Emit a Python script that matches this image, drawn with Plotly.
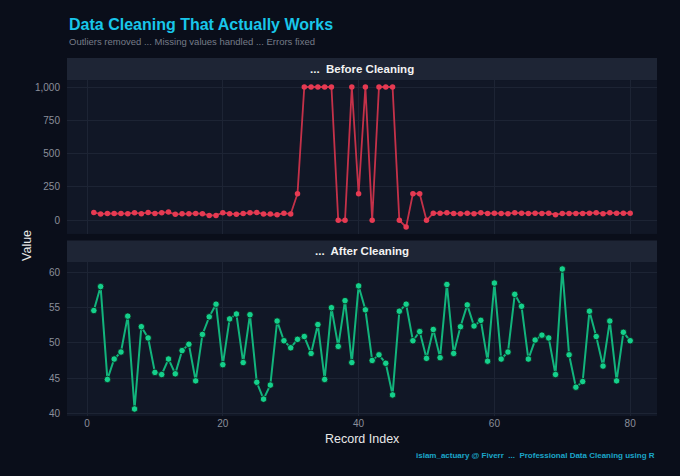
import plotly.graph_objects as go

# ---------------- data ----------------
record_index = list(range(1, 81))

before_values = [
    59, 47, 52, 52, 52, 50, 57, 50, 59, 52,
    57, 62, 45, 50, 50, 52, 50, 37, 37, 57,
    50, 45, 52, 57, 59, 47, 47, 42, 54, 47,
    200, 1000, 1000, 1000, 1000, 1000, 0, 0, 1000, 200,
    1000, 0, 1000, 1000, 1000, 0, -50, 200, 200, 0,
    54, 54, 57, 52, 50, 54, 50, 57, 52, 54,
    52, 50, 57, 54, 52, 54, 52, 54, 42, 52,
    52, 52, 52, 54, 57, 50, 57, 54, 54, 54,
]

after_values = [
    54.6, 58.0, 44.8, 47.7, 48.7, 53.8, 40.6, 52.3, 50.7, 45.8,
    45.5, 47.7, 45.6, 48.9, 49.8, 44.6, 51.2, 53.7, 55.5, 46.9,
    53.4, 54.1, 47.2, 54.0, 44.4, 42.0, 44.0, 53.1, 50.3, 49.3,
    50.5, 50.9, 48.5, 52.6, 44.8, 55.0, 49.5, 56.0, 47.2, 58.1,
    54.7, 47.5, 48.3, 47.1, 42.6, 54.5, 55.5, 50.3, 51.6, 47.8,
    51.9, 47.9, 58.3, 48.5, 52.3, 55.4, 52.4, 53.2, 47.4, 58.5,
    47.7, 48.7, 56.9, 55.2, 47.7, 50.4, 51.1, 50.7, 45.5, 60.5,
    48.3, 43.7, 44.5, 54.5, 50.9, 46.7, 53.1, 44.6, 51.5, 50.3,
]

x_ticks = [0, 20, 40, 60, 80]
top_y_ticks = [0, 250, 500, 750, 1000]
bottom_y_ticks = [40, 45, 50, 55, 60]

title_text = "Data Cleaning That Actually Works"
subtitle_text = "Outliers removed ... Missing values handled ... Errors fixed"
strip_top = "...  Before Cleaning"
strip_bottom = "...  After Cleaning"
x_title = "Record Index"
y_title = "Value"
caption_text = "islam_actuary @ Fiverr  ...  Professional Data Cleaning using R"

# ---------------- style ----------------
FONT = "Liberation Sans, Arial, Helvetica, sans-serif"
BG = "#0a0e1a"
PANEL = "#111726"
STRIP = "#1e2535"
GRID = "#1d2434"
TICK = "#8a8f9a"
RED = "#e63a52"
GREEN = "#14d08c"

top_dom = [0.5084, 0.9385]
bot_dom = [0.0, 0.4302]
top_strip = [0.9385, 1.0]
bot_strip = [0.4302, 0.4902]

fig = go.Figure()

fig.add_trace(go.Scatter(
    x=record_index, y=before_values, mode="lines+markers",
    line=dict(color="rgba(212,52,76,0.92)", width=1.8),
    marker=dict(color=RED, size=5.5, line=dict(width=0)),
    xaxis="x", yaxis="y", showlegend=False, hoverinfo="x+y",
))
fig.add_trace(go.Scatter(
    x=record_index, y=after_values, mode="lines+markers",
    line=dict(color="#12b47c", width=2),
    marker=dict(color=GREEN, size=6.5, line=dict(width=0.8, color="#0b1a16")),
    xaxis="x2", yaxis="y2", showlegend=False, hoverinfo="x+y",
))

common_x = dict(
    range=[-2.95, 83.95], tickvals=x_ticks, showgrid=True, gridcolor=GRID,
    gridwidth=1, zeroline=False, showline=False, ticks="",
    tickfont=dict(family=FONT, size=10, color=TICK),
)
common_y = dict(
    showgrid=True, gridcolor=GRID, gridwidth=1, zeroline=False, showline=False,
    ticks="outside", ticklen=4, tickcolor="rgba(0,0,0,0)",
    tickfont=dict(family=FONT, size=10, color=TICK),
)

fig.update_layout(
    width=680, height=476,
    margin=dict(l=67, r=23, t=58, b=60),
    paper_bgcolor=BG, plot_bgcolor=PANEL,
    font=dict(family=FONT, color="#e6e6e6"),
    xaxis=dict(domain=[0, 1], anchor="y", showticklabels=False, **common_x),
    yaxis=dict(domain=top_dom, anchor="x", range=[-102.5, 1052.5],
               tickvals=top_y_ticks, tickformat=",", **common_y),
    xaxis2=dict(domain=[0, 1], anchor="y2", showticklabels=True, **common_x),
    yaxis2=dict(domain=bot_dom, anchor="x2", range=[39.6, 61.5],
                tickvals=bottom_y_ticks, **common_y),
    showlegend=False,
)

# strips
for dom in (top_strip, bot_strip):
    fig.add_shape(type="rect", xref="paper", yref="paper", x0=0, x1=1,
                  y0=dom[0], y1=dom[1], fillcolor=STRIP, line=dict(width=0),
                  layer="below")

annotations = [
    dict(text=f"<b>{strip_top}</b>", x=0.5, y=sum(top_strip) / 2,
         font=dict(size=11.5, color="#f2f2f2", family=FONT)),
    dict(text=f"<b>{strip_bottom}</b>", x=0.5, y=sum(bot_strip) / 2,
         font=dict(size=11.5, color="#f2f2f2", family=FONT)),
    dict(text=f"<b>{title_text}</b>", x=0, y=1.0922, xanchor="left",
         font=dict(size=16, color="#18c6ea", family=FONT)),
    dict(text=subtitle_text, x=0, y=1.0447, xanchor="left",
         font=dict(size=9.5, color="#767c88", family=FONT)),
    dict(text=x_title, x=0.5, y=-0.0642,
         font=dict(size=12.5, color="#e8e8e8", family=FONT)),
    dict(text=y_title, x=-0.0678, y=0.4777, textangle=-90,
         font=dict(size=12.5, color="#e8e8e8", family=FONT)),
    dict(text=f"<b>{caption_text}</b>", x=1, y=-0.1117, xanchor="right",
         font=dict(size=8, color="#1ba6c9", family=FONT)),
]
for a in annotations:
    a.setdefault("xanchor", "center")
    fig.add_annotation(xref="paper", yref="paper", showarrow=False,
                       yanchor="middle", **a)

fig.write_html(
    "out.html",
    config={"displayModeBar": False},
    post_script="document.body.style.margin='0';"
                "document.body.style.background='#0a0e1a';",
)
